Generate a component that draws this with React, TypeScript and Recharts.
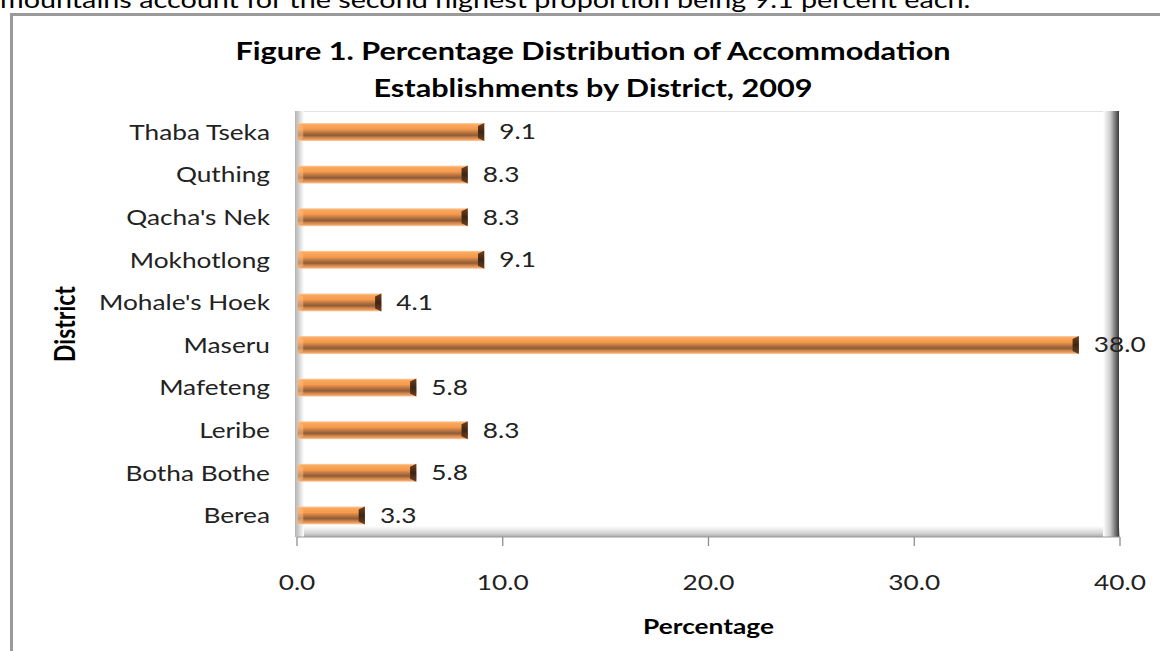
import { BarChart, Bar, XAxis, YAxis, LabelList } from 'recharts';

// Excel order (bottom to top in the picture)
const districts = [
  'Berea',
  'Botha Bothe',
  'Leribe',
  'Mafeteng',
  'Maseru',
  "Mohale's Hoek",
  'Mokhotlong',
  "Qacha's Nek",
  'Quthing',
  'Thaba Tseka',
];
const percents = [3.3, 5.8, 8.3, 5.8, 38.0, 4.1, 9.1, 8.3, 8.3, 9.1];
const xTicks = [0, 10, 20, 30, 40];

const data = districts.map((district, i) => ({ district, value: percents[i] }));

const FONT = "Lato, 'Open Sans', sans-serif";
const W = 1160;
const H = 651;
// the original picture is stretched sideways, so the chart is drawn narrower and scaled
const S = 1.25;
const IW = W / S;
const PLOT_LEFT = 297;
const PLOT_RIGHT = 1120;
const PLOT_TOP = 111;
const PLOT_BOTTOM = 537;

const BarShape = (props: any) => {
  const { x, y, width, height } = props;
  if (!width || width <= 0) return null;
  const cap = Math.min(5, width / 3);
  return (
    <g>
      <rect x={x} y={y} width={width} height={height} fill="url(#barGrad)" />
      <polygon
        points={`${x},${y} ${x + cap},${y + 3} ${x + cap},${y + height - 3} ${x},${y + height}`}
        fill="#fbc089"
        opacity={0.55}
      />
      <polygon
        points={`${x + width - cap},${y + 3} ${x + width},${y} ${x + width},${y + height} ${x + width - cap},${y + height - 3}`}
        fill="url(#capGrad)"
      />
    </g>
  );
};

const DistrictLabel = (props: any) => {
  const vb = props.viewBox || {};
  const cx = (vb.x || 0) + 64 / S;
  const cy = (vb.y || 0) + (vb.height || 0) / 2;
  return (
    <text
      x={cx}
      y={cy}
      transform={`rotate(-90, ${cx}, ${cy})`}
      textAnchor="middle"
      dominantBaseline="central"
      fontFamily={FONT}
      fontWeight={700}
      fontSize={23}
      fill="#000"
    >
      District
    </text>
  );
};

const App = () => {
  return (
    <div
      style={{
        position: 'absolute',
        left: 0,
        top: 0,
        width: W,
        height: H,
        background: '#fff',
        overflow: 'hidden',
        fontFamily: FONT,
      }}
    >
      <div
        style={{
          position: 'absolute',
          left: 10,
          top: 13,
          width: W,
          height: H,
          borderLeft: '3px solid #9a9a9a',
          borderTop: '3px solid #9a9a9a',
        }}
      />
      {/* 3D walls behind the plot */}
      <div
        style={{
          position: 'absolute',
          left: PLOT_LEFT,
          top: PLOT_TOP,
          width: PLOT_RIGHT - PLOT_LEFT,
          height: 1,
          background: '#e2e2e2',
        }}
      />
      <div
        style={{
          position: 'absolute',
          left: PLOT_LEFT,
          top: PLOT_BOTTOM - 11,
          width: PLOT_RIGHT - PLOT_LEFT,
          height: 11,
          background: 'linear-gradient(to bottom, #ffffff, #d4d4d4 65%, #a8a8a8)',
        }}
      />
      <div
        style={{
          position: 'absolute',
          left: PLOT_LEFT - 2,
          top: PLOT_TOP,
          width: 9,
          height: PLOT_BOTTOM - PLOT_TOP,
          background: 'linear-gradient(to right, #b0b0b0, #ffffff)',
        }}
      />
      <div
        style={{
          position: 'absolute',
          left: PLOT_RIGHT - 17,
          top: PLOT_TOP,
          width: 16,
          height: PLOT_BOTTOM - PLOT_TOP,
          background: 'linear-gradient(to right, #ffffff, #cccccc 45%, #5a5a5a 88%, #3a3a3a)',
        }}
      />

      <div
        style={{
          position: 'absolute',
          left: 0,
          top: 0,
          width: IW,
          height: H,
          transform: `scaleX(${S})`,
          transformOrigin: '0 0',
        }}
      >
        <div
          style={{
            position: 'absolute',
            left: 0,
            top: -12,
            fontSize: 23,
            lineHeight: '23px',
            color: '#000',
            whiteSpace: 'nowrap',
          }}
        >
          mountains account for the second highest proportion being 9.1 percent each.
        </div>

        <div style={{ position: 'absolute', left: 0, top: 0 }}>
          <BarChart
            width={IW}
            height={H}
            data={data}
            layout="vertical"
            margin={{ top: PLOT_TOP, right: IW - PLOT_RIGHT / S, bottom: 0, left: 0 }}
            barSize={18}
          >
            <defs>
              <linearGradient id="barGrad" x1="0" y1="0" x2="0" y2="1">
                <stop offset="0%" stopColor="#fbd3b0" />
                <stop offset="10%" stopColor="#f9a85e" />
                <stop offset="34%" stopColor="#f6994a" />
                <stop offset="50%" stopColor="#c07a45" />
                <stop offset="68%" stopColor="#8e5b36" />
                <stop offset="80%" stopColor="#c98149" />
                <stop offset="92%" stopColor="#f0a060" />
                <stop offset="100%" stopColor="#fbd1ae" />
              </linearGradient>
              <linearGradient id="capGrad" x1="0" y1="0" x2="0" y2="1">
                <stop offset="0%" stopColor="#6b4022" />
                <stop offset="50%" stopColor="#3e2512" />
                <stop offset="100%" stopColor="#6b4022" />
              </linearGradient>
            </defs>
            <XAxis
              type="number"
              domain={[0, 40]}
              ticks={xTicks}
              interval={0}
              tickFormatter={(v: number) => v.toFixed(1)}
              axisLine={{ stroke: '#9a9a9a' }}
              tickLine={{ stroke: '#8a8a8a' }}
              tickSize={9}
              tickMargin={29}
              height={H - PLOT_BOTTOM}
              tick={{ fontSize: 21, fill: '#222', fontFamily: FONT }}
              label={{
                value: 'Percentage',
                position: 'insideBottom',
                offset: 17,
                fontSize: 21,
                fontWeight: 700,
                fill: '#000',
                fontFamily: FONT,
              }}
            />
            <YAxis
              type="category"
              dataKey="district"
              reversed
              width={PLOT_LEFT / S}
              axisLine={{ stroke: '#c4c4c4' }}
              tickLine={false}
              tickSize={0}
              tickMargin={27 / S}
              interval={0}
              tick={{ fontSize: 21, fill: '#222', fontFamily: FONT }}
              label={<DistrictLabel />}
            />
            <Bar dataKey="value" shape={<BarShape />} isAnimationActive={false}>
              <LabelList
                dataKey="value"
                position="right"
                offset={12}
                formatter={(v: any) => Number(v).toFixed(1)}
                fontSize={21}
                fill="#222"
                fontFamily={FONT}
              />
            </Bar>
          </BarChart>
        </div>

        <div
          style={{
            position: 'absolute',
            left: 0,
            top: 32,
            width: (593 * 2) / S,
            textAlign: 'center',
            fontSize: 24.5,
            fontWeight: 700,
            lineHeight: '37px',
            color: '#000',
            whiteSpace: 'nowrap',
          }}
        >
          Figure 1. Percentage Distribution of Accommodation
          <br />
          Establishments by District, 2009
        </div>
      </div>
    </div>
  );
};

export default App;
